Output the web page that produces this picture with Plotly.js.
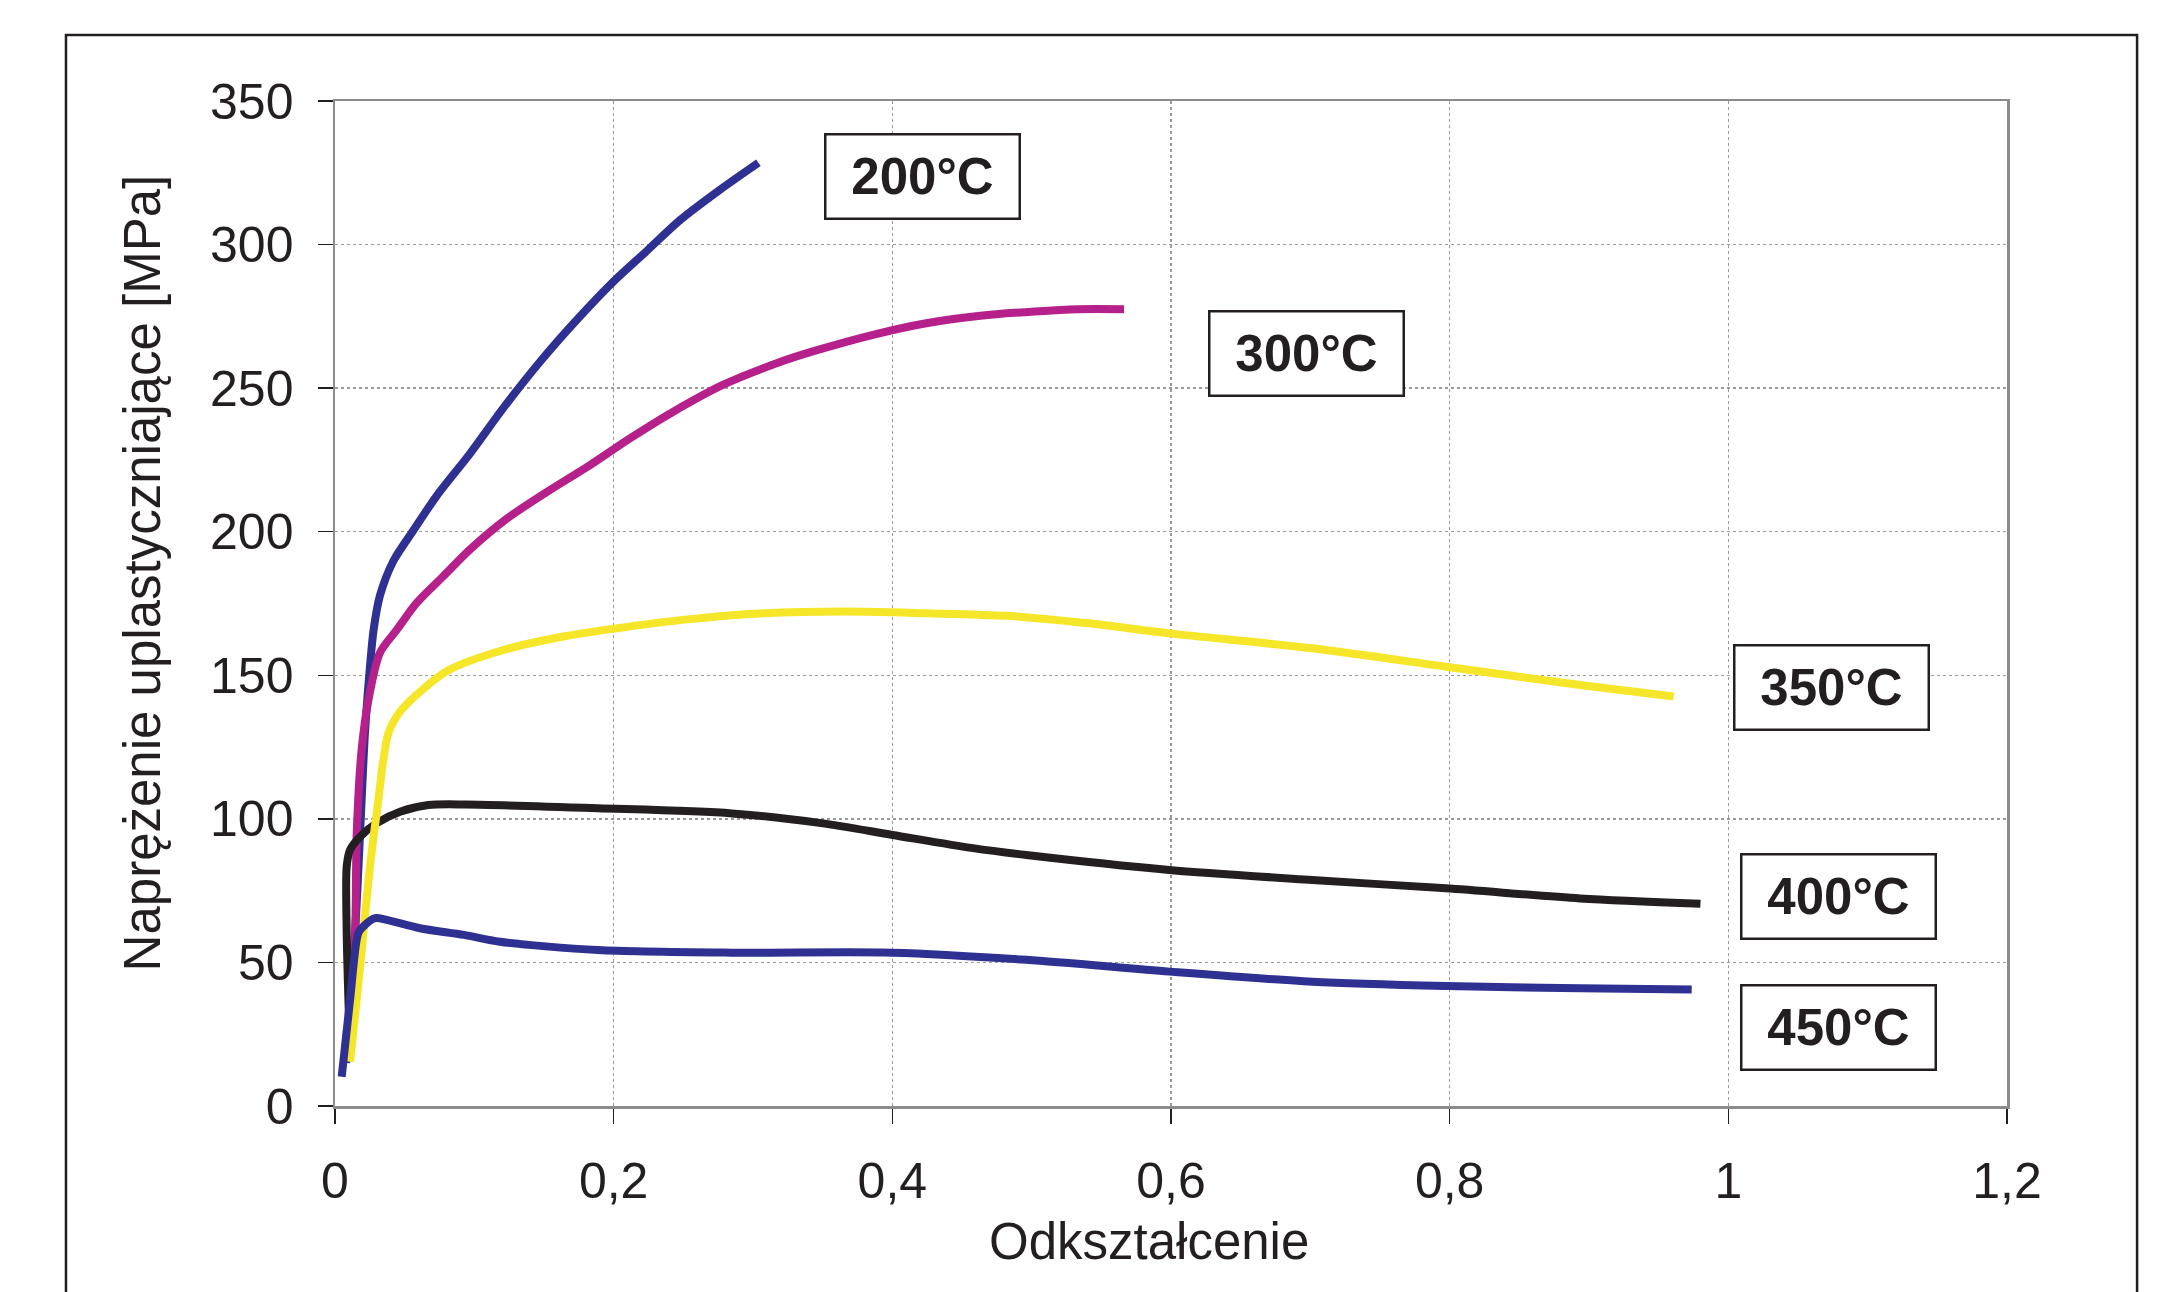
<!DOCTYPE html>
<html>
<head>
<meta charset="utf-8">
<script src="https://cdn.plot.ly/plotly-3.0.1.min.js"></script>
<style>html,body{margin:0;padding:0;background:#fff;}#chart{width:2163px;height:1292px;}</style>
</head>
<body>
<div id="chart"></div>
<script>
// Odkształcenie (strain) vs naprężenie uplastyczniające [MPa]
const x200 = [0.008, 0.0144, 0.018, 0.0215, 0.0251, 0.0277, 0.0323, 0.0419, 0.0563, 0.073, 0.0969, 0.121, 0.147, 0.1736, 0.1998, 0.2238, 0.2476, 0.2763, 0.3039];
const y200 = [15, 60, 95, 129.9, 153, 165.8, 177.8, 189.8, 200.5, 212.5, 227.2, 243.2, 259.1, 273.8, 287.1, 297.8, 308.5, 319.1, 328.5];

const x300 = [0.010, 0.0144, 0.0156, 0.0191, 0.024, 0.0323, 0.0443, 0.0586, 0.0777, 0.0969, 0.1232, 0.1519, 0.183, 0.2117, 0.2428, 0.2787, 0.3194, 0.3465, 0.3854, 0.4243, 0.4632, 0.5021, 0.5333, 0.5663];
const y300 = [30, 60, 95, 124, 141.4, 157.9, 165.8, 175.2, 184.5, 193.8, 204.5, 213.8, 223.2, 232.5, 241.8, 251.2, 259.1, 263.3, 268.5, 272.6, 275.2, 276.7, 277.5, 277.5];

const x350 = [0.0108, 0.018, 0.0251, 0.0311, 0.0347, 0.0383, 0.047, 0.0625, 0.082, 0.1209, 0.1638, 0.2027, 0.2494, 0.3077, 0.366, 0.4243, 0.4827, 0.541, 0.5988, 0.7013, 0.7974, 0.8936, 0.9608];
const y350 = [15.4, 48.5, 83.4, 106.6, 120.5, 129.8, 137.5, 144.9, 151.9, 158.8, 163.5, 166.4, 169.3, 171.6, 172.2, 171.6, 170.7, 168.1, 164.6, 159.4, 153, 146.6, 142.6];

const x400 = [0.0108, 0.0084, 0.0084, 0.0108, 0.018, 0.0299, 0.0467, 0.0669, 0.0945, 0.1887, 0.2848, 0.3489, 0.4001, 0.4578, 0.4962, 0.5988, 0.7013, 0.7974, 0.8936, 0.98];
const y400 = [19.5, 60.2, 83.4, 89.2, 93.8, 98.5, 102.5, 104.8, 105, 103.7, 101.9, 98.5, 94.4, 89.8, 87.4, 82.2, 78.7, 75.8, 72.3, 70.4];

const x450 = [0.0048, 0.0108, 0.0167, 0.0203, 0.0287, 0.0371, 0.061, 0.0925, 0.1184, 0.1887, 0.2848, 0.4001, 0.4962, 0.5988, 0.7013, 0.7974, 0.8936, 0.9737];
const y450 = [10.2, 36.9, 60.2, 62.5, 65.4, 64.8, 61.9, 59.6, 57.2, 54.3, 53.4, 53.4, 50.9, 46.8, 43.3, 41.8, 41, 40.6];

const labels = ["200°C", "300°C", "350°C", "400°C", "450°C"];
const labelX = [0.422, 0.697, 1.074, 1.079, 1.079];
const labelY = [323.6, 261.9, 145.9, 72.8, 27.5];

const xTicks = [0, 0.2, 0.4, 0.6, 0.8, 1, 1.2];
const yTicks = [0, 50, 100, 150, 200, 250, 300, 350];

const xTitle = "Odkształcenie";
const yTitle = "Naprężenie uplastyczniające [MPa]";

const dark = "#231F20";
const font = "Liberation Sans, Arial, sans-serif";

function tr(x, y, color) {
  return {x: x, y: y, type: "scatter", mode: "lines",
    line: {color: color, width: 8, shape: "spline", smoothing: 0.8},
    hoverinfo: "skip", showlegend: false};
}

const data = [
  tr(x200, y200, "#2E3192"),
  tr(x300, y300, "#B5208A"),
  tr(x400, y400, dark),
  tr(x350, y350, "#F6E629"),
  tr(x450, y450, "#2E3192")
];

const annotations = labels.map((t, i) => ({
  x: labelX[i], y: labelY[i], xref: "x", yref: "y", text: "<b>" + t + "</b>",
  showarrow: false, font: {family: font, size: 51, color: dark},
  bgcolor: "#ffffff", bordercolor: dark, borderwidth: 2.5, borderpad: 0,
  width: 192, height: 82, align: "center", valign: "middle"
}));
annotations.push({
  x: -0.1154, y: 0.53, xref: "paper", yref: "paper", text: yTitle, textangle: -90,
  showarrow: false, font: {family: font, size: 51, color: dark}, xanchor: "center", yanchor: "middle"
});
annotations.push({
  x: 0.487, y: -0.1348, xref: "paper", yref: "paper", text: xTitle,
  showarrow: false, font: {family: font, size: 51, color: dark}, xanchor: "center", yanchor: "middle"
});

const layout = {
  width: 2163, height: 1292,
  margin: {l: 335, r: 156, t: 101, b: 186},
  paper_bgcolor: "#ffffff", plot_bgcolor: "#ffffff",
  separators: ",.",
  font: {family: font, color: dark, size: 50},
  showlegend: false,
  xaxis: {
    range: [0, 1.2], tickvals: xTicks, ticktext: xTicks.map(v => String(v).replace(".", ",")),
    showline: true, linecolor: "#8c8c8c", linewidth: 2.5, mirror: true,
    ticks: "outside", ticklen: 15, tickwidth: 1.5, tickcolor: dark,
    showgrid: true, gridcolor: "#9a9a9a", gridwidth: 1.5, griddash: "dot",
    zeroline: false, tickfont: {family: font, size: 50, color: dark}, ticklabelstandoff: 14
  },
  yaxis: {
    range: [0, 350], tickvals: yTicks,
    showline: true, linecolor: "#8c8c8c", linewidth: 2.5, mirror: true,
    ticks: "outside", ticklen: 15, tickwidth: 1.5, tickcolor: dark,
    showgrid: true, gridcolor: "#9a9a9a", gridwidth: 1.5, griddash: "dot",
    zeroline: false, tickfont: {family: font, size: 50, color: dark}, ticklabelstandoff: 14
  },
  annotations: annotations,
  shapes: [{
    type: "rect", xref: "paper", yref: "paper",
    x0: -0.1609, x1: 1.0778, y0: -0.35, y1: 1.0657,
    line: {color: dark, width: 2.5}, fillcolor: "rgba(0,0,0,0)", layer: "below"
  }]
};

Plotly.newPlot("chart", data, layout, {staticPlot: true, displayModeBar: false});
</script>
</body>
</html>
